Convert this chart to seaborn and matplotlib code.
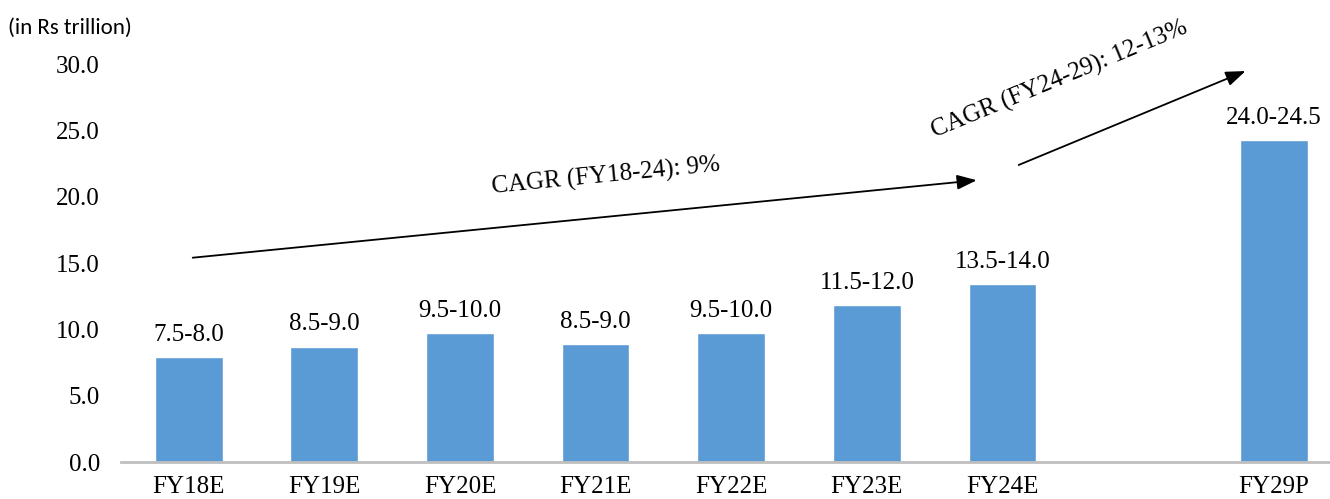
import numpy as np
import pandas as pd
import matplotlib
matplotlib.use("Agg")
import matplotlib.pyplot as plt
import seaborn as sns

# data
years = ["FY18E", "FY19E", "FY20E", "FY21E", "FY22E", "FY23E", "FY24E", "FY29P"]
values = [7.9, 8.7, 9.7, 8.9, 9.7, 11.8, 13.4, 24.3]
ranges = ["7.5-8.0", "8.5-9.0", "9.5-10.0", "8.5-9.0", "9.5-10.0",
          "11.5-12.0", "13.5-14.0", "24.0-24.5"]
slots = years[:7] + [" "] + years[7:]   # empty gap before FY29P
yticks = [0, 5, 10, 15, 20, 25, 30]

sns.set_style("white")
plt.rcParams["font.family"] = "serif"
plt.rcParams["font.serif"] = ["Liberation Serif", "Times New Roman", "DejaVu Serif"]
plt.rcParams["text.color"] = "black"
plt.rcParams["xtick.color"] = "black"
plt.rcParams["ytick.color"] = "black"

df = pd.DataFrame({"year": years, "value": values})

fig = plt.figure(figsize=(13.3, 4.99), dpi=100)
ax = fig.add_axes([0.0908, 0.0741, 0.918, 0.7976])

sns.barplot(data=df, x="year", y="value", order=slots, color="#5B9BD5",
            saturation=1, width=0.5, ax=ax)
ax.bar_label(ax.containers[0], labels=ranges, padding=8, fontsize=18)

ax.set_xlim(-0.5, 8.5)
ax.set_ylim(0, 30)
ax.set_yticks(yticks)
ax.set_yticklabels([f"{t:.1f}" for t in yticks])
ax.set_xlabel("")
ax.set_ylabel("")
ax.tick_params(axis="y", length=0, pad=15, labelsize=18)
ax.tick_params(axis="x", length=0, pad=10, labelsize=18)
for side in ["top", "right", "left"]:
    ax.spines[side].set_visible(False)
ax.spines["bottom"].set_color("#BFBFBF")
ax.spines["bottom"].set_linewidth(2)
ax.spines["bottom"].set_clip_on(False)

# CAGR arrows
arrow = dict(arrowstyle="-|>,head_length=1.2,head_width=0.45", color="black", lw=1.3)
ax.annotate("", xy=(5.83, 21.26), xytext=(0.01, 15.38), arrowprops=arrow,
            annotation_clip=False)
ax.annotate("", xy=(7.81, 29.55), xytext=(6.1, 22.31), arrowprops=arrow,
            annotation_clip=False)
ax.text(3.08, 21.5, "CAGR (FY18-24): 9%", fontsize=18, rotation=5.6,
        ha="center", va="center")
ax.text(6.42, 28.8, "CAGR (FY24-29): 12-13%", fontsize=18, rotation=22.5,
        ha="center", va="center", clip_on=False)

fig.text(0.006, 0.945, "(in Rs trillion)", fontsize=16.5,
         family=["Carlito", "Lato", "DejaVu Sans"], ha="left", va="center")

fig.savefig("out.png", dpi=100)
